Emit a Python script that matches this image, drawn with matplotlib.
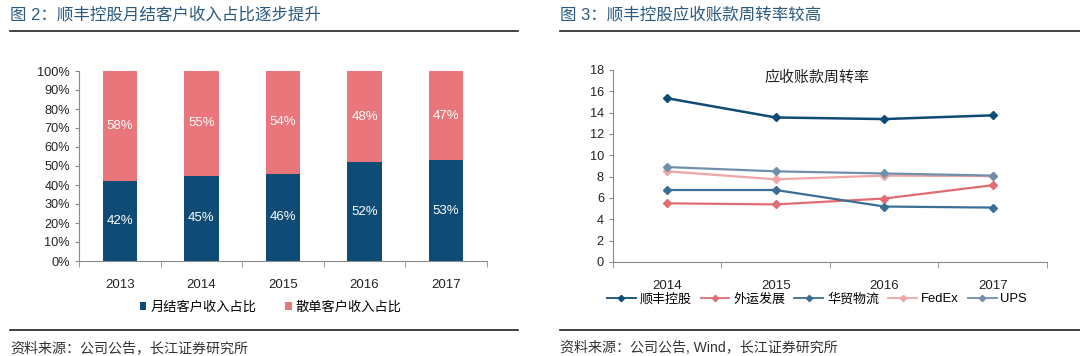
import matplotlib
matplotlib.use('Agg')
import matplotlib.pyplot as plt
from matplotlib.lines import Line2D
from matplotlib.ticker import FixedLocator, PercentFormatter
import numpy as np

plt.rcParams['font.family'] = ['Liberation Sans', 'Noto Sans CJK SC', 'DejaVu Sans']

# left chart data
years_bar = ['2013', '2014', '2015', '2016', '2017']
monthly = [42, 45, 46, 52, 53]
single = [58, 55, 54, 48, 47]

# right chart data
years_line = ['2014', '2015', '2016', '2017']
sf = [15.35, 13.55, 13.4, 13.75]
sinotrans = [5.5, 5.4, 5.95, 7.2]
huamao = [6.75, 6.75, 5.2, 5.1]
fedex = [8.5, 7.75, 8.1, 8.05]
ups = [8.9, 8.5, 8.3, 8.1]

navy = '#0f4c75'
pink = '#e8767a'
title_color = '#2a5a82'
axis_color = '#8a8a8a'

fig = plt.figure(figsize=(10.8, 3.56), dpi=100)

def hline(x0, x1, y):
    fig.add_artist(Line2D([x0 / 1080, x1 / 1080], [1 - y / 356, 1 - y / 356],
                          color='#222222', lw=1.2, transform=fig.transFigure))

fig.text(10 / 1080, 1 - 15 / 356, '图 2：顺丰控股月结客户收入占比逐步提升',
         fontsize=11.9, color=title_color, va='center', ha='left')
fig.text(560 / 1080, 1 - 15 / 356, '图 3：顺丰控股应收账款周转率较高',
         fontsize=11.9, color=title_color, va='center', ha='left')
hline(10, 518, 31)
hline(560, 1080, 31)
hline(10, 518, 330)
hline(560, 1080, 330)
fig.text(10 / 1080, 1 - 348 / 356, '资料来源：公司公告，长江证券研究所',
         fontsize=10.1, color='#333333', va='center', ha='left')
fig.text(560 / 1080, 1 - 348 / 356, '资料来源：公司公告, Wind，长江证券研究所',
         fontsize=10.1, color='#333333', va='center', ha='left')


def style_axes(ax):
    for s in ['top', 'right']:
        ax.spines[s].set_visible(False)
    for s in ['left', 'bottom']:
        ax.spines[s].set_color(axis_color)
        ax.spines[s].set_linewidth(0.8)
    ax.tick_params(axis='y', labelsize=9.2, length=3, color=axis_color, labelcolor='#222222')
    ax.tick_params(axis='x', which='major', length=0, labelsize=9.5, pad=13, labelcolor='#222222')
    ax.tick_params(axis='x', which='minor', length=4, color=axis_color)


# left: stacked bars
ax1 = fig.add_axes([79 / 1080, 1 - 261 / 356, 408 / 1080, 190 / 356])
x = np.arange(len(years_bar))
ax1.bar(x, monthly, width=0.42, color=navy, label='月结客户收入占比')
ax1.bar(x, single, width=0.42, bottom=monthly, color=pink, label='散单客户收入占比')
for i in range(len(x)):
    ax1.text(x[i], monthly[i] / 2, f'{monthly[i]}%', color='white', ha='center', va='center', fontsize=9.5)
    ax1.text(x[i], monthly[i] + single[i] / 2, f'{single[i]}%', color='white', ha='center', va='center', fontsize=9.5)
ax1.set_xlim(-0.5, len(x) - 0.5)
ax1.set_ylim(0, 100)
ax1.set_yticks(np.arange(0, 101, 10))
ax1.yaxis.set_major_formatter(PercentFormatter(decimals=0))
ax1.set_xticks(x)
ax1.set_xticklabels(years_bar)
ax1.xaxis.set_minor_locator(FixedLocator(np.arange(-0.5, len(x), 1)))
style_axes(ax1)
ax1.legend(loc='upper center', bbox_to_anchor=(0.47, -0.15), ncol=2, frameon=False,
           fontsize=9.5, handlelength=0.5, handleheight=0.5, handletextpad=0.3, columnspacing=2.2)

# right: lines
ax2 = fig.add_axes([613 / 1080, 1 - 262 / 356, 434 / 1080, 192 / 356])
xl = np.arange(len(years_line))
series = [
    (sf, '顺丰控股', '#0f4c75', 1.8),
    (sinotrans, '外运发展', '#e06d72', 1.6),
    (huamao, '华贸物流', '#3b6e95', 1.6),
    (fedex, 'FedEx', '#eea5a6', 1.6),
    (ups, 'UPS', '#6f8fab', 1.6),
]
for vals, name, col, lw in series:
    ax2.plot(xl, vals, color=col, lw=lw, marker='D', markersize=4.5, label=name)
ax2.set_xlim(-0.5, len(xl) - 0.5)
ax2.set_ylim(0, 18)
ax2.set_yticks(np.arange(0, 19, 2))
ax2.set_xticks(xl)
ax2.set_xticklabels(years_line)
ax2.xaxis.set_minor_locator(FixedLocator(np.arange(-0.5, len(xl), 1)))
style_axes(ax2)
ax2.text(0.47, 0.96, '应收账款周转率', transform=ax2.transAxes, ha='center', va='center',
         fontsize=10.8, color='#222222')
leg = ax2.legend(loc='upper center', bbox_to_anchor=(0.47, -0.1), ncol=5, frameon=False,
                 fontsize=9.4, handlelength=2.2, handletextpad=0.3, columnspacing=0.7,
                 markerscale=0.7)
for h in leg.legend_handles:
    h.set_linewidth(1.3)

fig.savefig('out.png', dpi=100)
